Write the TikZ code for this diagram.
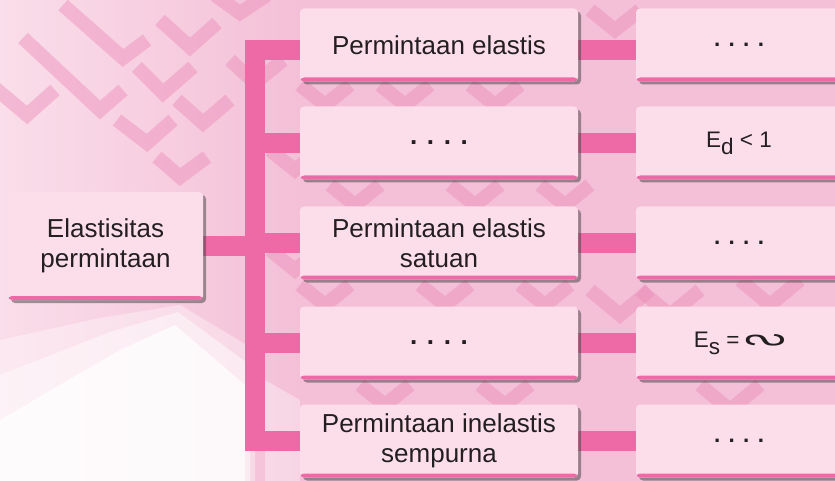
\documentclass[tikz,border=0pt]{standalone}
\usepackage{fontspec}
\setmainfont{Liberation Sans}
\usetikzlibrary{shadows}
\definecolor{barpink}{RGB}{238,106,167}
\definecolor{boxfill}{RGB}{252,222,234}
\definecolor{bgpink}{RGB}{244,192,215}
\definecolor{bglight}{RGB}{250,222,234}
\definecolor{chev}{RGB}{236,140,185}
\definecolor{txt}{RGB}{35,31,32}
\pgfdeclarelayer{bglayer}
\pgfdeclarelayer{connlayer}
\pgfsetlayers{bglayer,connlayer,main}
\tikzset{
  box/.style={rounded corners=4pt, fill=boxfill, inner sep=0pt, align=center,
    font=\fontsize{26}{30}\selectfont, text=txt,
    drop shadow={shadow xshift=3pt, shadow yshift=-3pt, opacity=0.5, fill=black!75},
    path picture={\fill[barpink] ([yshift=-1pt]path picture bounding box.south west) rectangle ([yshift=4pt]path picture bounding box.south east);}},
  midbox/.style={box, minimum width=278pt, minimum height=73pt},
  rightbox/.style={box, minimum width=206pt, minimum height=73pt, font=\fontsize{22.5}{26}\selectfont},
  leftbox/.style={box, minimum width=195pt, minimum height=108pt},
  conn/.style={draw=barpink, line width=20pt, line join=miter},
  connshadow/.style={draw=black!70, opacity=0.35, line width=20pt, line join=miter},
  chevron/.style={draw=chev, line width=14pt, opacity=0.45, line join=miter}
}
\newcommand{\dotsfour}{\textbf{. . . .}}
\begin{document}
\begin{tikzpicture}[x=1pt,y=-1pt]
\useasboundingbox (0,0) rectangle (835,481);
\clip (0,0) rectangle (835,481);
% nodes
\node[leftbox] (L) at (105.5,246) {Elastisitas\\permintaan};
\node[midbox] (m1) at (439,45) {Permintaan elastis};
\node[midbox] (m2) at (439,143) {\dotsfour};
\node[midbox] (m3) at (439,243) {Permintaan elastis\\satuan};
\node[midbox] (m4) at (439,343) {\dotsfour};
\node[midbox] (m5) at (439,441) {Permintaan inelastis\\sempurna};
\node[rightbox] (r1) at (739,45) {\dotsfour};
\node[rightbox] (r2) at (739,143) {E\raisebox{-0.3em}{d} < 1};
\node[rightbox] (r3) at (739,243) {\dotsfour};
\node[rightbox] (r4) at (739,343) {E\raisebox{-0.3em}{s} = \scalebox{2.4}[0.9]{\rotatebox{90}{\reflectbox{S}}}};
\node[rightbox] (r5) at (739,441) {\dotsfour};
\coordinate (bx) at (255,0);
% background
\begin{pgfonlayer}{bglayer}
\fill[bgpink] (0,0) rectangle (835,481);
\shade[left color=bglight, right color=bgpink] (0,0) rectangle (300,481);
\foreach \ax/\ay/\bx/\by/\cx/\cy in {
  63/5/123/58/147/40, 23/38/100/110/123/90, -5/88/27/115/55/90,
  160/20/190/47/217/23, 137/67/163/93/193/67, 117/120/147/143/173/120,
  177/100/203/123/230/100, 157/157/180/177/207/157, 215/-5/240/13/267/-5,
  230/60/255/83/283/60, 300/85/325/105/350/85, 380/85/405/105/430/85,
  470/85/495/105/520/85, 330/185/355/205/380/185, 450/185/475/205/500/185,
  300/285/325/305/350/285, 420/285/445/305/470/285, 520/285/545/305/570/285,
  540/185/565/205/590/185, 270/150/295/170/320/150, 270/250/295/270/320/250,
  590/10/615/30/640/10, 590/290/620/315/650/290, 640/290/670/315/700/290,
  740/280/770/305/800/280, 700/385/730/410/760/385, 360/385/385/405/410/385,
  480/385/505/405/530/385}
  \draw[chevron] (\ax,\ay) -- (\bx,\by) -- (\cx,\cy);
\fill[white, opacity=0.35] (0,340) -- (100,318) -- (180,305) -- (255,350) -- (255,481) -- (0,481) -- cycle;
\fill[white, opacity=0.45] (0,375) -- (110,332) -- (178,312) -- (250,365) -- (250,481) -- (0,481) -- cycle;
\fill[white, opacity=0.75] (0,420) -- (120,350) -- (175,325) -- (245,385) -- (245,481) -- (0,481) -- cycle;
\fill[white, opacity=0.35] (265,380) -- (300,400) -- (300,481) -- (265,481) -- cycle;
\end{pgfonlayer}
% connectors
\begin{pgfonlayer}{connlayer}
\begin{scope}[shift={(2.5,2.5)}]
\draw[connshadow] ([yshift=-5pt]m1.west) -| (bx |- m5.west) -- (m5.west);
\foreach \m in {m2,m3,m4} \draw[connshadow] (\m.west -| bx) -- (\m.west);
\draw[connshadow] (L.east) -- (L.east -| bx);
\draw[connshadow] ([yshift=-5pt]m1.east) -- ([yshift=-5pt]r1.west);
\foreach \i in {2,3,4,5} \draw[connshadow] (m\i.east) -- (r\i.west);
\end{scope}
\draw[conn] ([yshift=-5pt]m1.west) -| (bx |- m5.west) -- (m5.west);
\foreach \m in {m2,m3,m4} \draw[conn] (\m.west -| bx) -- (\m.west);
\draw[conn] (L.east) -- (L.east -| bx);
\draw[conn] ([yshift=-5pt]m1.east) -- ([yshift=-5pt]r1.west);
\foreach \i in {2,3,4,5} \draw[conn] (m\i.east) -- (r\i.west);
\end{pgfonlayer}
\end{tikzpicture}
\end{document}
